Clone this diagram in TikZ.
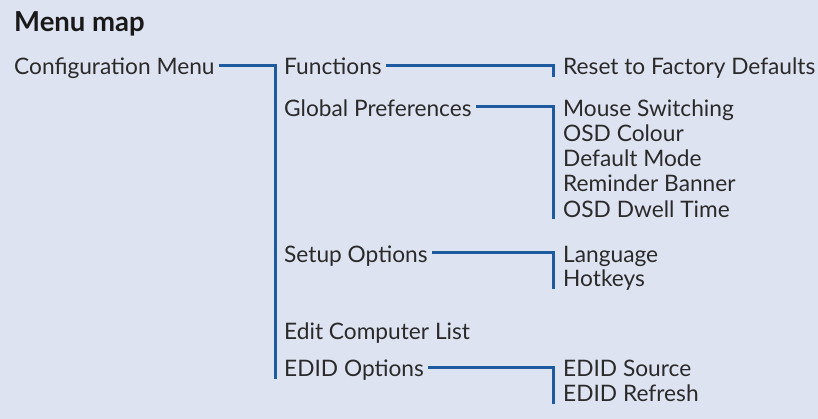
\documentclass[tikz,border=0pt]{standalone}
\usepackage{fontspec}
\setmainfont{Lato}
\definecolor{bg}{HTML}{DDE3F0}
\definecolor{linkblue}{HTML}{1E5AA0}
\definecolor{txt}{HTML}{2A2A2A}
\begin{document}
\begin{tikzpicture}[x=1pt,y=-1pt,
  item/.style={anchor=base west,inner sep=0pt,text=txt,font=\fontsize{22.7}{25}\selectfont,text height=21pt,text depth=2pt},
  link/.style={draw=linkblue,line width=3pt}]
\fill[bg] (0,0) rectangle (818,419);
\useasboundingbox (0,0) rectangle (818,419);
\node[anchor=base west,inner sep=0pt,text=black!90,font=\fontsize{27.5}{29}\selectfont\bfseries] (title) at (14,31.5) {Menu map};
\node[item] (cfg) at (14,75) {Configuration Menu};
\coordinate (busA) at (275,66);
\coordinate (busB) at (553,66);
\node[item] (func) at (284,75) {Functions};
\node[item] (glob) at (284,116.5) {Global Preferences};
\node[item] (setup) at (284,262.5) {Setup Options};
\node[item] (edit) at (284,339.5) {Edit Computer List};
\node[item] (edid) at (284,376.5) {EDID Options};
\node[item] (reset) at (563,75) {Reset to Factory Defaults};
\node[item] (mouse) at (563,116.5) {Mouse Switching};
\node[item] (osdc) at (563,141.5) {OSD Colour};
\node[item] (defm) at (563,166.75) {Default Mode};
\node[item] (remb) at (563,192) {Reminder Banner};
\node[item] (dwell) at (563,217.25) {OSD Dwell Time};
\node[item] (lang) at (563,262) {Language};
\node[item] (hotk) at (563,287) {Hotkeys};
\node[item] (esrc) at (563,376.5) {EDID Source};
\node[item] (eref) at (563,401.5) {EDID Refresh};
\draw[link] ([xshift=4pt]cfg.east) -- (cfg.east -| busA) -- (busA |- edid.south);
\draw[link] ([xshift=4pt]func.east) -- (func.east -| busB) -- (busB |- reset.south);
\draw[link] ([xshift=4pt]glob.east) -- (glob.east -| busB) -- (busB |- dwell.south);
\draw[link] ([xshift=4pt]setup.east) -- (setup.east -| busB) -- (busB |- hotk.south);
\draw[link] ([xshift=4pt]edid.east) -- (edid.east -| busB) -- (busB |- eref.south);
\end{tikzpicture}
\end{document}
